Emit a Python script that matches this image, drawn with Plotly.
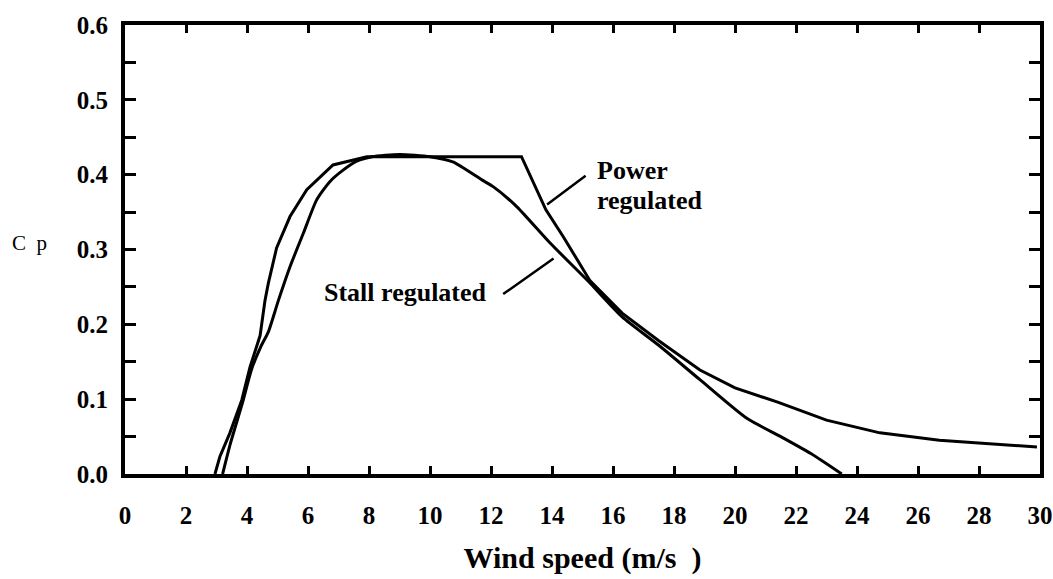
import plotly.graph_objects as go

# Stall regulated curve (wind speed m/s, Cp)
stall_v = [3.2, 3.45, 3.85, 4.15, 4.45, 4.7, 5.03, 5.41, 5.85, 6.28, 6.7, 7.15, 7.6, 8.1, 9.0, 10.0, 10.75, 11.7, 12.07, 12.85, 13.93, 15.25, 16.3, 17.5, 18.85, 20.4, 21.5, 22.5, 23.5]
stall_cp = [0.0, 0.04, 0.095, 0.14, 0.17, 0.19, 0.232, 0.277, 0.322, 0.366, 0.39, 0.406, 0.418, 0.424, 0.427, 0.424, 0.417, 0.393, 0.384, 0.357, 0.309, 0.255, 0.21, 0.172, 0.126, 0.074, 0.05, 0.027, 0.0]

# Power regulated curve
power_v = [2.95, 3.11, 3.44, 3.83, 4.10, 4.43, 4.59, 4.70, 4.97, 5.41, 5.96, 6.82, 7.93, 13.0, 13.8, 14.37, 15.25, 16.3, 17.5, 18.3, 18.85, 20.0, 21.4, 23.0, 24.75, 26.7, 29.9]
power_cp = [0.0, 0.023, 0.055, 0.099, 0.143, 0.185, 0.232, 0.255, 0.302, 0.344, 0.38, 0.413, 0.424, 0.424, 0.353, 0.317, 0.258, 0.215, 0.178, 0.155, 0.139, 0.115, 0.096, 0.072, 0.055, 0.045, 0.036]

x_ticks = list(range(0, 31, 2))
y_ticks = [0.0, 0.1, 0.2, 0.3, 0.4, 0.5, 0.6]
y_ticklabels = ["0.0", "0.1", "0.2", "0.3", "0.4", "0.5", "0.6"]

# Label callouts: (text anchor) and pointer line (tail -> tip)
stall_label = {"text": "Stall regulated", "x": 9.21, "y": 0.243}
stall_pointer = {"x0": 12.35, "y0": 0.239, "x1": 14.05, "y1": 0.288}
power_label1 = {"text": "Power", "x": 15.41, "y": 0.405}
power_label2 = {"text": "regulated", "x": 15.41, "y": 0.366}
power_pointer = {"x0": 15.15, "y0": 0.400, "x1": 13.84, "y1": 0.360}

fig = go.Figure()
fig.add_trace(go.Scatter(x=power_v, y=power_cp, mode="lines",
                         line=dict(color="black", width=3), showlegend=False))
fig.add_trace(go.Scatter(x=stall_v, y=stall_cp, mode="lines",
                         line=dict(color="black", width=3, shape="spline", smoothing=0.6),
                         showlegend=False))

serif = "Liberation Serif"
tickfont = dict(family=serif, size=25, color="black")

fig.update_xaxes(range=[0, 30], tickvals=x_ticks, ticktext=["<b>%d</b>" % t for t in x_ticks],
                 ticks="inside", ticklen=8, tickwidth=3, tickcolor="black",
                 showline=True, linewidth=4, linecolor="black", mirror="ticks",
                 showgrid=False, zeroline=False, tickfont=tickfont, automargin=False,
                 ticklabelstandoff=16,
                 title=dict(text="<b>Wind speed (m/s  )</b>",
                            font=dict(family=serif, size=30, color="black"), standoff=20))
fig.update_yaxes(range=[0, 0.6], tickvals=y_ticks, ticktext=["<b>%s</b>" % t for t in y_ticklabels],
                 ticks="inside", ticklen=11, tickwidth=3, tickcolor="black",
                 minor=dict(dtick=0.05, ticks="inside", ticklen=11, tickwidth=3, tickcolor="black", showgrid=False),
                 showline=True, linewidth=4, linecolor="black", mirror="ticks",
                 showgrid=False, zeroline=False, tickfont=tickfont, automargin=False,
                 ticklabelstandoff=8)

annots = []
for lab, anchor in [(stall_label, "center"), (power_label1, "left"), (power_label2, "left")]:
    annots.append(dict(x=lab["x"], y=lab["y"], xref="x", yref="y", text="<b>" + lab["text"] + "</b>",
                       showarrow=False, xanchor=anchor, yanchor="middle",
                       font=dict(family=serif, size=26, color="black")))
for p in [stall_pointer, power_pointer]:
    annots.append(dict(x=p["x1"], y=p["y1"], ax=p["x0"], ay=p["y0"], xref="x", yref="y",
                       axref="x", ayref="y", showarrow=True, arrowhead=0, arrowwidth=2.5,
                       arrowcolor="black", text=""))
annots.append(dict(x=-0.104, y=0.514, xref="paper", yref="paper", text="C&nbsp;&nbsp;p", showarrow=False,
                   xanchor="center", yanchor="middle",
                   font=dict(family=serif, size=21, color="black")))

fig.update_layout(width=1053, height=579, margin=dict(l=125, r=13, t=25, b=105),
                  plot_bgcolor="white", paper_bgcolor="white", annotations=annots)

fig.write_html("out.html")
